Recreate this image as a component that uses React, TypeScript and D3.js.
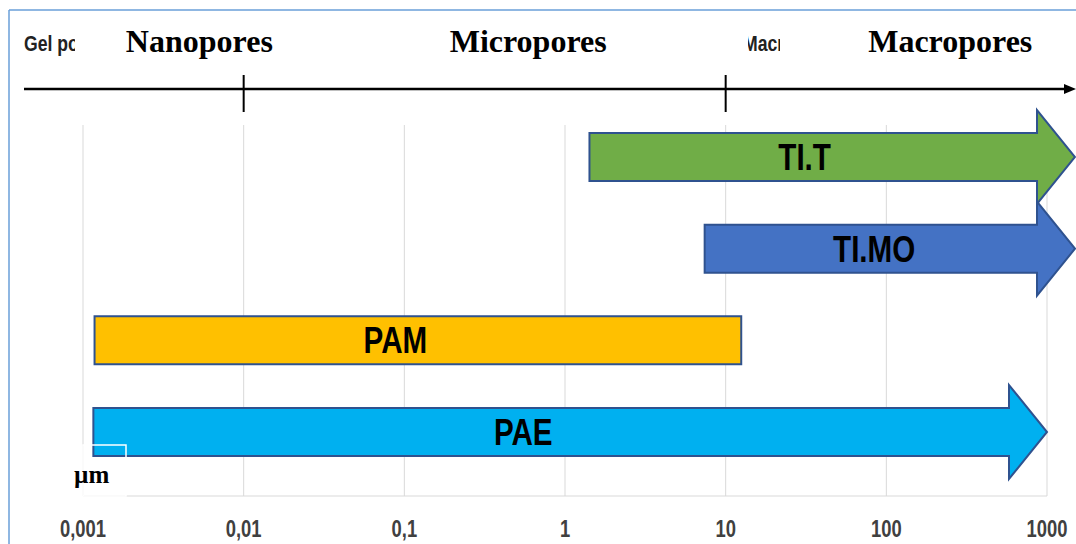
import * as d3 from "d3";

// pore size scale (µm)
const tickValues = [0.001, 0.01, 0.1, 1, 10, 100, 1000];
const tickLabels = ["0,001", "0,01", "0,1", "1", "10", "100", "1000"];
const topTicks = [0.01, 10];

const zones = ["Nanopores", "Micropores", "Macropores"];
const zoneCenters = [0.0053, 0.59, 250];

const materials = ["TI.T", "TI.MO", "PAM", "PAE"];
const rangeFrom = [1.42, 7.4, 0.00118, 0.00116];
const rangeTo = [1500, 1500, 12.5, 1000];
const isArrow = [true, true, false, true];
const labelAt = [31, 84, 0.088, 0.55];
const fills = ["#70ad47", "#4472c4", "#ffc000", "#00b0f0"];

const W = 1076;
const H = 544;

// condensed sans (Calibri look-alike) drawn by squeezing Liberation Sans
function Narrow({ x, y, size, fill, anchor, children }: any) {
  return (
    <text
      transform={`translate(${x},${y}) scale(0.8,1)`}
      textAnchor={anchor || "start"}
      fontFamily="'Liberation Sans', Arial, sans-serif"
      fontWeight={700}
      fontSize={size}
      fill={fill}
    >
      {children}
    </text>
  );
}

export default function App() {
  const x = d3.scaleLog().domain([0.001, 1000]).range([83, 1047]);
  const y = d3.scalePoint<string>().domain(materials).range([157, 432]);
  const bodyH = 48;
  const headH = 94;
  const headL = 38;
  const gridTop = 125;
  const gridBottom = 496;
  const axisY = 89;
  const times = "'Liberation Serif', 'Times New Roman', serif";

  const shape = (i: number) => {
    const x0 = x(rangeFrom[i]);
    const x1 = Math.min(x(rangeTo[i]), W - 1);
    const cy = y(materials[i])!;
    const t = cy - bodyH / 2;
    const b = cy + bodyH / 2;
    if (!isArrow[i]) {
      return `M${x0},${t}L${x1},${t}L${x1},${b}L${x0},${b}Z`;
    }
    const hx = x1 - headL;
    return `M${x0},${t}L${hx},${t}L${hx},${cy - headH / 2}L${x1},${cy}L${hx},${cy + headH / 2}L${hx},${b}L${x0},${b}Z`;
  };

  return (
    <div style={{ position: "absolute", left: 0, top: 0, width: W, height: H, background: "#fff" }}>
      <svg width={W} height={H} style={{ display: "block" }}>
        <defs>
          <clipPath id="gelClip">
            <rect x={20} y={20} width={55} height={40} />
          </clipPath>
          <clipPath id="macrClip">
            <rect x={748} y={20} width={32} height={40} />
          </clipPath>
        </defs>

        {/* frame */}
        <line x1={9} x2={W} y1={10} y2={10} stroke="#6a9fd8" strokeWidth={1.5} />
        <line x1={9} x2={9} y1={10} y2={H} stroke="#6a9fd8" strokeWidth={1.5} />

        {/* grid */}
        {tickValues.map((v) => (
          <line key={v} x1={x(v)} x2={x(v)} y1={gridTop} y2={gridBottom} stroke="#d9d9d9" strokeWidth={1} />
        ))}
        <line x1={x(0.001)} x2={x(1000)} y1={gridBottom} y2={gridBottom} stroke="#d9d9d9" strokeWidth={1} />

        {/* tick labels */}
        {tickValues.map((v, i) => (
          <Narrow key={v} x={x(v)} y={537} size={23} fill="#404040" anchor="middle">
            {tickLabels[i]}
          </Narrow>
        ))}

        {/* top scale axis */}
        <line x1={24} x2={W - 8} y1={axisY} y2={axisY} stroke="#000" strokeWidth={2.5} />
        <path d={`M${W - 12},${axisY - 5}L${W},${axisY}L${W - 12},${axisY + 5}Z`} fill="#000" />
        {topTicks.map((v) => (
          <line key={v} x1={x(v)} x2={x(v)} y1={75} y2={112} stroke="#000" strokeWidth={2} />
        ))}

        <g clipPath="url(#gelClip)">
          <Narrow x={24} y={51} size={22} fill="#222">
            Gel pores
          </Narrow>
        </g>
        <g clipPath="url(#macrClip)">
          <Narrow x={743} y={51} size={22} fill="#222">
            Macropores
          </Narrow>
        </g>

        {zones.map((z, i) => (
          <text
            key={z}
            x={x(zoneCenters[i])}
            y={52}
            textAnchor="middle"
            fontFamily={times}
            fontWeight={700}
            fontSize={32}
            fill="#000"
          >
            {z}
          </text>
        ))}

        {/* ranges */}
        {materials.map((m, i) => (
          <g key={m}>
            <path d={shape(i)} fill={fills[i]} stroke="#2f528f" strokeWidth={2} strokeLinejoin="miter" />
            <Narrow x={x(labelAt[i])} y={y(m)! + 13} size={37} fill="#000" anchor="middle">
              {m}
            </Narrow>
          </g>
        ))}

        {/* unit box */}
        <rect x={x(0.001)} y={445} width={43} height={gridBottom - 445} fill="none" stroke="#fff" strokeWidth={1.5} />
        <text x={74} y={483} fontFamily={times} fontWeight={700} fontSize={25} fill="#000">
          µm
        </text>
      </svg>
    </div>
  );
}
